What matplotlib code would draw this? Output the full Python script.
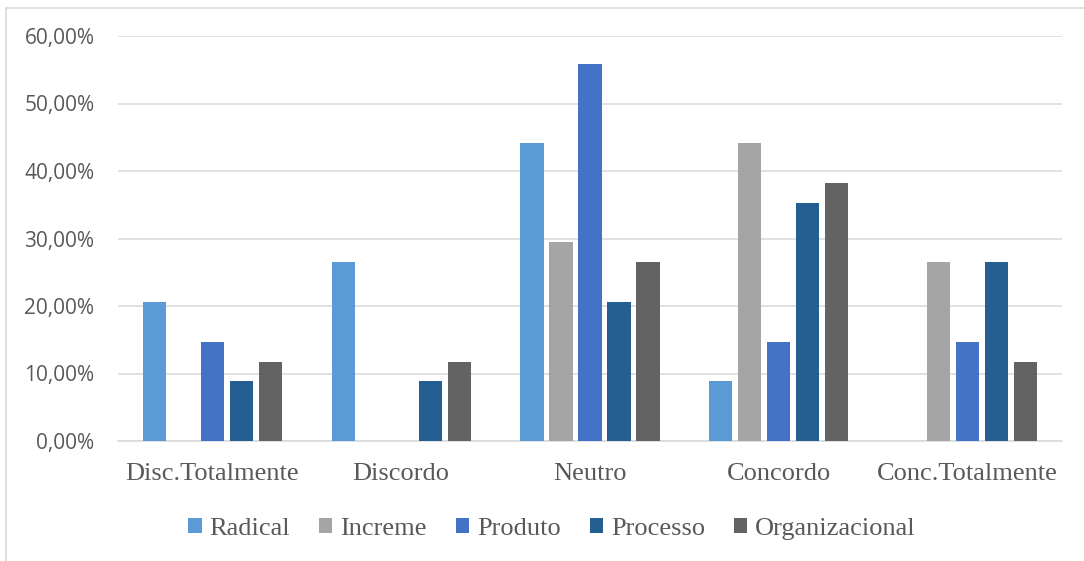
import numpy as np
import matplotlib.pyplot as plt
from matplotlib.patches import Rectangle
from matplotlib.ticker import FuncFormatter

# response shares per answer category (in %)
categorias = ["Disc.Totalmente", "Discordo", "Neutro", "Concordo", "Conc.Totalmente"]
radical = [20.59, 26.47, 44.12, 8.82, 0.0]
increme = [0.0, 0.0, 29.41, 44.12, 26.47]
produto = [14.71, 0.0, 55.88, 14.71, 14.71]
processo = [8.82, 8.82, 20.59, 35.29, 26.47]
organizacional = [11.76, 11.76, 26.47, 38.24, 11.76]

series = [
    ("Radical", radical, "#5B9BD5"),
    ("Increme", increme, "#A5A5A5"),
    ("Produto", produto, "#4472C4"),
    ("Processo", processo, "#255E91"),
    ("Organizacional", organizacional, "#636363"),
]

W, H = 1084, 561
fig = plt.figure(figsize=(W / 100, H / 100), dpi=100)
ax = fig.add_axes([118 / W, 1 - 441 / H, (1062 - 118) / W, 405 / H])

# outer chart frame (left and top edges visible)
fig.patches.append(Rectangle((5.5 / W, -0.1), 1.2, 1 - 7.5 / H + 0.1,
                             transform=fig.transFigure, fill=False,
                             edgecolor="#D9D9D9", linewidth=1.2))

x = np.arange(len(categorias))
step = 0.1536
width = 0.122
for i, (nome, vals, cor) in enumerate(series):
    ax.bar(x + (i - 2) * step, vals, width, color=cor, label=nome, zorder=3)

ax.set_xlim(-0.5, len(categorias) - 0.5)
ax.set_ylim(0, 60)
ax.set_yticks(np.arange(0, 61, 10))
ax.yaxis.set_major_formatter(FuncFormatter(lambda v, p: f"{v:.2f}%".replace(".", ",")))
ax.grid(axis="y", color="#D9D9D9", linewidth=1.1, zorder=0)
for s in ["top", "right", "left"]:
    ax.spines[s].set_visible(False)
ax.spines["bottom"].set_color("#D9D9D9")
ax.spines["bottom"].set_linewidth(1.1)

ax.set_xticks(x)
ax.set_xticklabels(categorias, fontfamily="Liberation Serif", fontsize=19, color="#595959")
ax.tick_params(axis="x", length=0, pad=16)
ax.tick_params(axis="y", length=0, pad=17, labelsize=15, labelcolor="#595959")
for t in ax.get_yticklabels():
    t.set_fontfamily("Open Sans")

leg = fig.legend(loc="center", bbox_to_anchor=(552 / W, 1 - 529 / H), ncol=5,
                 frameon=False, handlelength=0.5, handleheight=0.5,
                 handletextpad=0.3, columnspacing=1.1,
                 prop={"family": "Liberation Serif", "size": 19})
for t in leg.get_texts():
    t.set_color("#595959")

fig.savefig("out.png", dpi=100)
